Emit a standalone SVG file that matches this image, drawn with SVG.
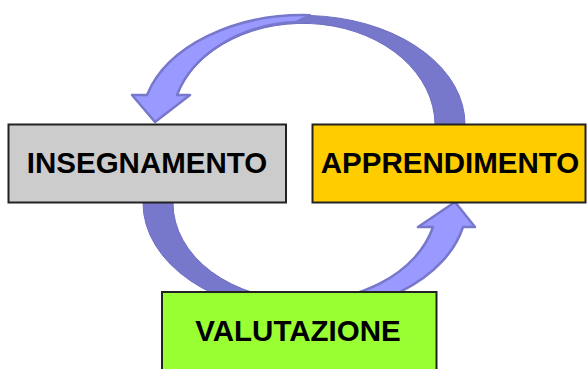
<svg xmlns="http://www.w3.org/2000/svg" width="587" height="369" viewBox="0 0 587 369">
  <style>
    .back { fill: #7777cc; stroke: #6f6fc2; stroke-width: 1; }
    .front { fill: #9999ff; stroke: #7777cc; stroke-width: 2.5; stroke-linejoin: round; }
    .box { stroke: #222222; stroke-width: 2; }
    .label { font-family: "Liberation Sans", Arial, sans-serif; font-weight: bold; font-size: 29.5px; fill: #000000; text-anchor: middle; }
  </style>
  <rect width="587" height="369" fill="#ffffff"/>
  <g id="connectors">
    <g id="arrow-top">
      <path class="back" d="M465,132 L465,124 A162 109 0 0 0 147,95 L177,95 A132 102 0 0 1 435,124 L435,132 Z"/>
      <path class="front" d="M155,122 L190,95 L177,95 A132 102 0 0 1 296,22 L310,15.2 A162 109 0 0 0 147,95 L132,95 Z"/>
    </g>
    <g id="arrow-bottom">
      <path class="back" d="M143,196 L143,203 A162 110 0 0 0 305,313 L305,300.5 A132 97.5 0 0 1 173,203 L173,196 Z"/>
      <path class="front" d="M455,202 L418,227 L433,227 A132 97.5 0 0 1 290,300 L290,312.5 A162 110 0 0 0 463,227 L475,227 Z"/>
    </g>
  </g>
  <g id="insegnamento">
    <rect class="box" x="8.5" y="124.5" width="277.5" height="78" fill="#cccccc"/>
    <text class="label" x="147" y="173.3">INSEGNAMENTO</text>
  </g>
  <g id="apprendimento">
    <rect class="box" x="312.5" y="124.5" width="273" height="78" fill="#ffcc00"/>
    <text class="label" x="450" y="173.3">APPRENDIMENTO</text>
  </g>
  <g id="valutazione">
    <rect class="box" x="162" y="292" width="274.5" height="90" fill="#99ff33"/>
    <text class="label" x="298" y="341">VALUTAZIONE</text>
  </g>
</svg>
